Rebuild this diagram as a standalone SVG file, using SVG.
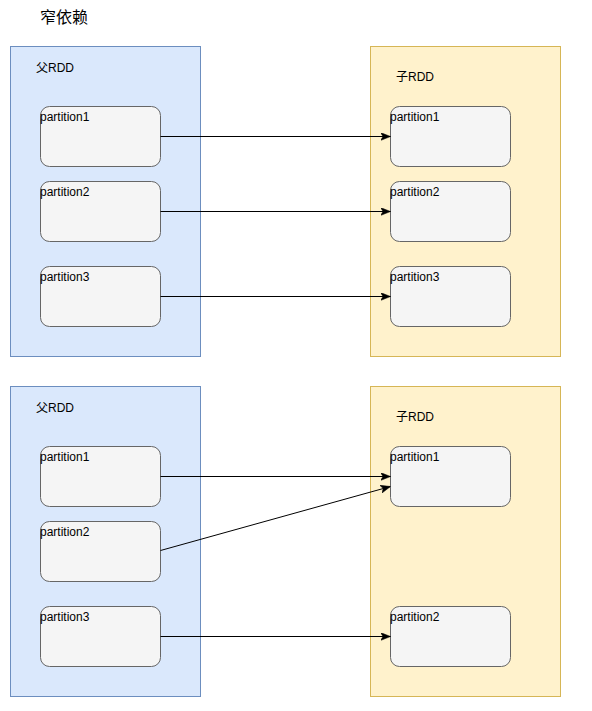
<svg xmlns="http://www.w3.org/2000/svg" width="592" height="711" viewBox="0 0 592 711">
<style>
.parent{fill:#dae8fc;stroke:#6c8ebf;stroke-width:1}
.child{fill:#fff2cc;stroke:#d6b656;stroke-width:1}
.part{fill:#f5f5f5;stroke:#666666;stroke-width:1}
.t{font-family:"Liberation Sans","Noto Sans CJK SC",sans-serif;font-size:12px;fill:#000}
.title{font-family:"Liberation Sans","Noto Sans CJK SC",sans-serif;font-size:16px;fill:#000}
.edge{fill:none;stroke:#000;stroke-width:1}
</style>
<defs>
<marker id="arr" viewBox="0 0 10 8" refX="10" refY="4" markerWidth="10" markerHeight="8" markerUnits="userSpaceOnUse" orient="auto">
<path d="M0,0 L10,4 L0,8 L2.5,4 Z" fill="#000" stroke="#000" stroke-width="0.5"/>
</marker>
</defs>
<rect width="592" height="711" fill="#ffffff"/>
<text class="title" x="40" y="23">窄依赖</text>

<g id="parent1">
<rect class="parent" x="10.5" y="46.5" width="190" height="310"/>
<text class="t" x="36" y="72">父RDD</text>
</g>
<g id="child1">
<rect class="child" x="370.5" y="46.5" width="190" height="310"/>
<text class="t" x="396" y="81">子RDD</text>
</g>
<g id="p1a"><rect class="part" x="40.5" y="106.5" width="120" height="60" rx="9"/><text class="t" x="40" y="121">partition1</text></g>
<g id="p1b"><rect class="part" x="40.5" y="181.5" width="120" height="60" rx="9"/><text class="t" x="40" y="196">partition2</text></g>
<g id="p1c"><rect class="part" x="40.5" y="266.5" width="120" height="60" rx="9"/><text class="t" x="40" y="281">partition3</text></g>
<g id="c1a"><rect class="part" x="390.5" y="106.5" width="120" height="60" rx="9"/><text class="t" x="390" y="121">partition1</text></g>
<g id="c1b"><rect class="part" x="390.5" y="181.5" width="120" height="60" rx="9"/><text class="t" x="390" y="196">partition2</text></g>
<g id="c1c"><rect class="part" x="390.5" y="266.5" width="120" height="60" rx="9"/><text class="t" x="390" y="281">partition3</text></g>

<g id="parent2">
<rect class="parent" x="10.5" y="386.5" width="190" height="310"/>
<text class="t" x="36" y="412">父RDD</text>
</g>
<g id="child2">
<rect class="child" x="370.5" y="386.5" width="190" height="310"/>
<text class="t" x="396" y="421">子RDD</text>
</g>
<g id="p2a"><rect class="part" x="40.5" y="446.5" width="120" height="60" rx="9"/><text class="t" x="40" y="461">partition1</text></g>
<g id="p2b"><rect class="part" x="40.5" y="521.5" width="120" height="60" rx="9"/><text class="t" x="40" y="536">partition2</text></g>
<g id="p2c"><rect class="part" x="40.5" y="606.5" width="120" height="60" rx="9"/><text class="t" x="40" y="621">partition3</text></g>
<g id="c2a"><rect class="part" x="390.5" y="446.5" width="120" height="60" rx="9"/><text class="t" x="390" y="461">partition1</text></g>
<g id="c2b"><rect class="part" x="390.5" y="606.5" width="120" height="60" rx="9"/><text class="t" x="390" y="621">partition2</text></g>

<g id="connectors">
<path class="edge" d="M160.5,136.5 L390.5,136.5" marker-end="url(#arr)"/>
<path class="edge" d="M160.5,211.5 L390.5,211.5" marker-end="url(#arr)"/>
<path class="edge" d="M160.5,296.5 L390.5,296.5" marker-end="url(#arr)"/>
<path class="edge" d="M160.5,476.5 L390.5,476.5" marker-end="url(#arr)"/>
<path class="edge" d="M160.5,550.5 L390.5,486.5" marker-end="url(#arr)"/>
<path class="edge" d="M160.5,636.5 L390.5,636.5" marker-end="url(#arr)"/>
</g>
</svg>
